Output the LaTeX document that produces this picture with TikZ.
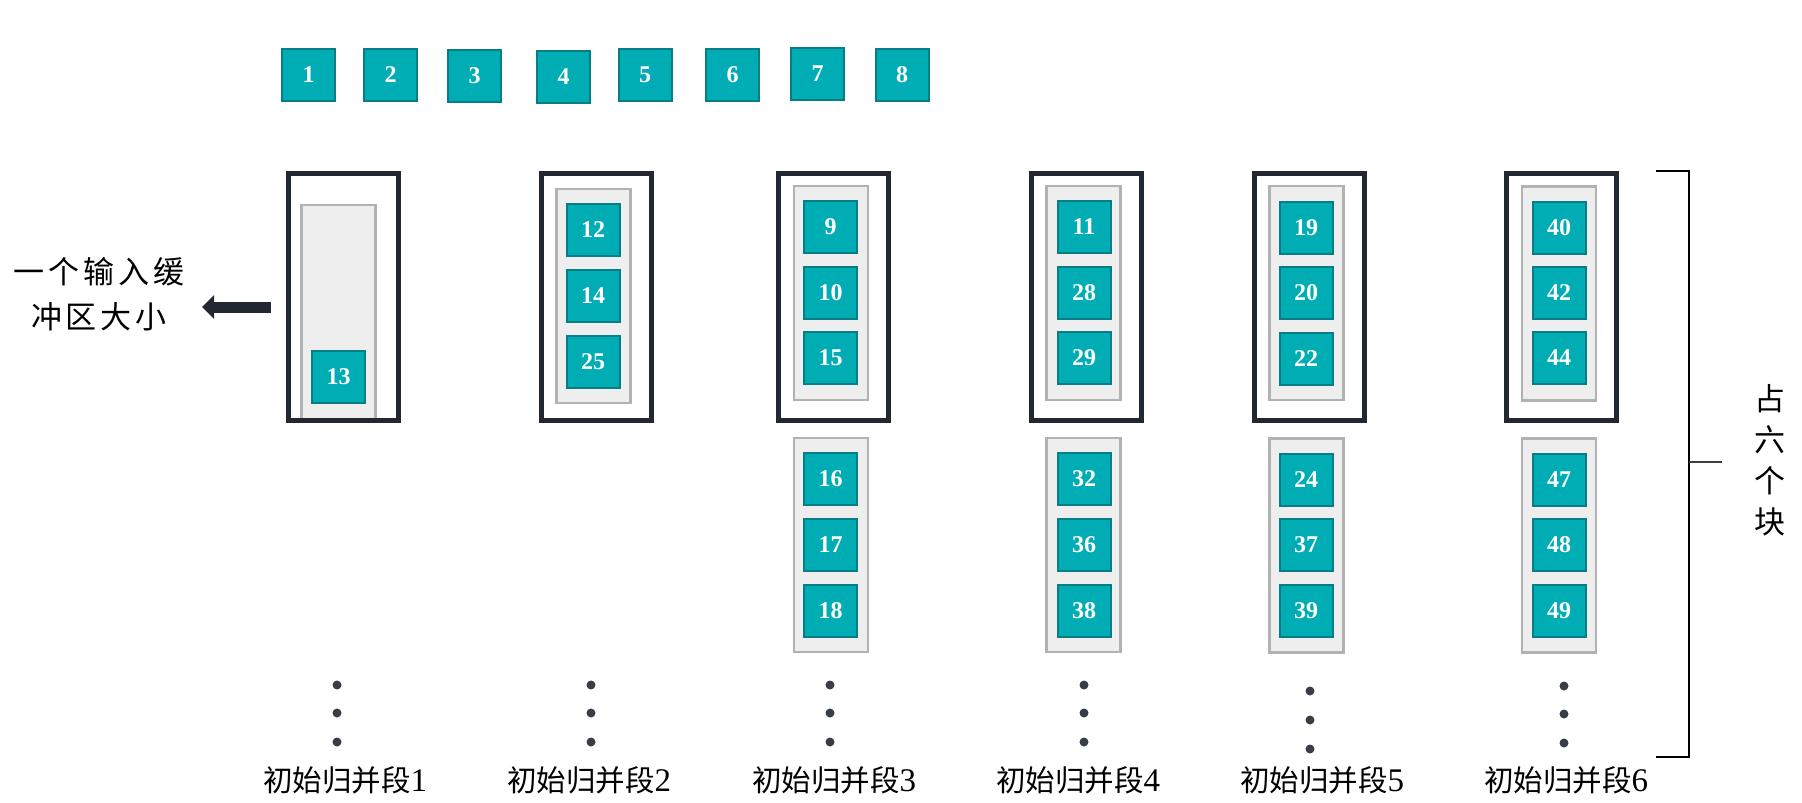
\documentclass[tikz,border=0pt]{standalone}
\usepackage{fontspec}
\setmainfont{Liberation Serif}
\newfontfamily\cjk{Noto Sans CJK SC}
\usetikzlibrary{arrows.meta}
\definecolor{tealfill}{HTML}{00ADB5}
\definecolor{tealline}{HTML}{077E86}
\definecolor{darkline}{HTML}{222831}
\definecolor{dotcol}{HTML}{393E46}
\definecolor{grayfill}{HTML}{EEEEEE}
\definecolor{grayline}{HTML}{B2B2B2}
\newcommand\seglab[1]{{\cjk\fontsize{29.5}{30}\selectfont 初始归并段}{\fontsize{33}{33}\selectfont #1}}
\tikzset{
  blk/.style={draw=tealline, fill=tealfill, line width=2pt, minimum width=53pt, minimum height=52pt, inner sep=0pt, text=white, font=\bfseries\fontsize{24}{24}\selectfont},
  buf/.style={draw=grayline, fill=grayfill, line width=2.5pt, minimum width=74pt, minimum height=214pt, inner sep=0pt},
  frame/.style={draw=darkline, line width=5pt, minimum width=110pt, minimum height=247pt, inner sep=0pt},
  vdot/.style={circle, fill=dotcol, minimum size=9pt, inner sep=0pt},
  seglabel/.style={inner sep=0pt},
}
\begin{document}
\begin{tikzpicture}[x=1pt,y=-1pt]
\useasboundingbox (0,0) rectangle (1802,803);
% top row
\node[blk] (t1) at (308.5,75) {1};
\node[blk] (t2) at (390.5,75) {2};
\node[blk] (t3) at (474.5,76) {3};
\node[blk] (t4) at (563.5,76.5) {4};
\node[blk] (t5) at (645,75) {5};
\node[blk] (t6) at (732.5,75) {6};
\node[blk] (t7) at (817.5,74) {7};
\node[blk] (t8) at (902,74.5) {8};
% column 1
\node[buf] (g1) at (338.5,312) {};
\node[blk] (s13) at (338.5,377) {13};
\node[frame] (o1) at (343,296.5) {};
% column 2
\node[buf] (g2) at (593.5,296) {};
\node[blk] (s12) at (593,230) {12};
\node[blk] (s14) at (593,296) {14};
\node[blk] (s25) at (593,362) {25};
\node[frame] (o2) at (596,296.5) {};
% column 3
\node[buf] (g3a) at (831,293) {};
\node[buf] (g3b) at (831,545) {};
\node[blk] (s9) at (830.5,227) {9};
\node[blk] (s10) at (830.5,292.5) {10};
\node[blk] (s15) at (830.5,358) {15};
\node[blk] (s16) at (830.5,479) {16};
\node[blk] (s17) at (830.5,544.5) {17};
\node[blk] (s18) at (830.5,610.5) {18};
\node[frame] (o3) at (833.5,296.5) {};
% column 4
\node[buf] (g4a) at (1083.5,293) {};
\node[buf] (g4b) at (1083.5,545) {};
\node[blk] (s11) at (1084,227) {11};
\node[blk] (s28) at (1084,292.5) {28};
\node[blk] (s29) at (1084,358) {29};
\node[blk] (s32) at (1084,479) {32};
\node[blk] (s36) at (1084,544.5) {36};
\node[blk] (s38) at (1084,610.5) {38};
\node[frame] (o4) at (1086.5,296.5) {};
% column 5
\node[buf] (g5a) at (1306.5,293) {};
\node[buf] (g5b) at (1306.5,545.5) {};
\node[blk] (s19) at (1306,227.5) {19};
\node[blk] (s20) at (1306,293) {20};
\node[blk] (s22) at (1306,358.5) {22};
\node[blk] (s24) at (1306,479.5) {24};
\node[blk] (s37) at (1306,544.5) {37};
\node[blk] (s39) at (1306,610.5) {39};
\node[frame] (o5) at (1309,297) {};
% column 6
\node[buf] (g6a) at (1559,293.5) {};
\node[buf] (g6b) at (1559,545.5) {};
\node[blk] (s40) at (1559,227.5) {40};
\node[blk] (s42) at (1559,293) {42};
\node[blk] (s44) at (1559,358) {44};
\node[blk] (s47) at (1559,479.5) {47};
\node[blk] (s48) at (1559,545) {48};
\node[blk] (s49) at (1559,610.5) {49};
\node[frame] (o6) at (1561.5,297) {};
% dots
\node[vdot] (d1a) at (337,685) {};
\node[vdot] (d1b) at (337,713) {};
\node[vdot] (d1c) at (337,742) {};
\node[vdot] (d2a) at (591,685) {};
\node[vdot] (d2b) at (591,713) {};
\node[vdot] (d2c) at (591,742) {};
\node[vdot] (d3a) at (830,685) {};
\node[vdot] (d3b) at (830,713) {};
\node[vdot] (d3c) at (830,742) {};
\node[vdot] (d4a) at (1084,685) {};
\node[vdot] (d4b) at (1084,713) {};
\node[vdot] (d4c) at (1084,742) {};
\node[vdot] (d5a) at (1310,691) {};
\node[vdot] (d5b) at (1310,720) {};
\node[vdot] (d5c) at (1310,749) {};
\node[vdot] (d6a) at (1564,686) {};
\node[vdot] (d6b) at (1564,714) {};
\node[vdot] (d6c) at (1564,743) {};
% segment labels
\node[seglabel] (l1) at (345,780) {\seglab{1}};
\node[seglabel] (l2) at (589,780) {\seglab{2}};
\node[seglabel] (l3) at (834,780) {\seglab{3}};
\node[seglabel] (l4) at (1078,780) {\seglab{4}};
\node[seglabel] (l5) at (1322,780) {\seglab{5}};
\node[seglabel] (l6) at (1566,780) {\seglab{6}};
% left text and arrow
\node[font=\cjk\fontsize{31}{45}\selectfont, align=center, inner sep=0pt] (bufsize) at (99,294.5)
  {一\hspace{4pt}个\hspace{4pt}输\hspace{4pt}入\hspace{4pt}缓\\冲\hspace{4pt}区\hspace{4pt}大\hspace{4pt}小};
\coordinate (aS) at (271,307);
\coordinate (aE) at (202,307);
\draw[darkline, line width=11pt, -{Triangle[length=12pt,width=23pt]}] (aS) -- (aE);
% bracket
\coordinate (bT0) at (1656,171);
\coordinate (bT1) at (1689,171);
\coordinate (bB1) at (1689,757);
\coordinate (bB0) at (1656,757);
\coordinate (bM) at (1689,462);
\coordinate (bM1) at (1722,462);
\draw[line width=1.5pt, black] (bT0) -- (bT1) -- (bB1) -- (bB0);
\draw[line width=2.2pt, dotcol] (bM) -- (bM1);
\node[font=\cjk\fontsize{31}{41}\selectfont, align=center, inner sep=0pt] (six) at (1770,460) {占\\六\\个\\块};
\end{tikzpicture}
\end{document}
